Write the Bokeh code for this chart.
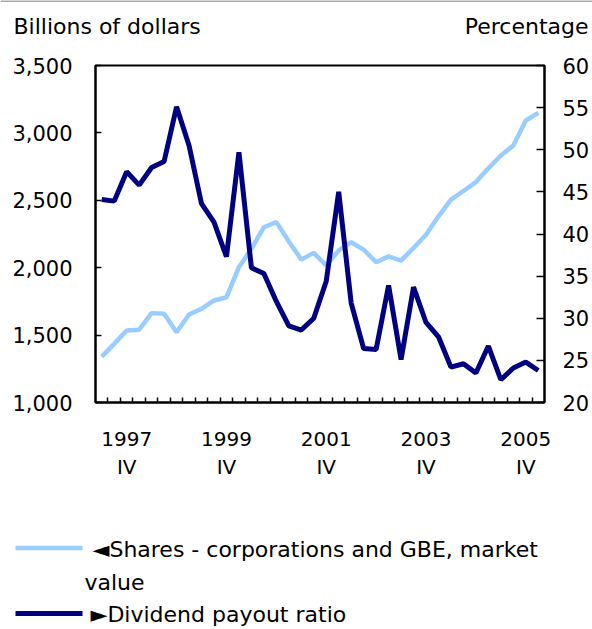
from bokeh.plotting import figure
from bokeh.models import (Range1d, LinearAxis, FixedTicker, NumeralTickFormatter,
                          ColumnDataSource)
from bokeh.layouts import column
from bokeh.embed import file_html
from bokeh.resources import INLINE
from bokeh.core.properties import value

# ---------------- data ----------------
quarters = ["1997 Q2", "1997 Q3", "1997 Q4", "1998 Q1", "1998 Q2", "1998 Q3", "1998 Q4",
            "1999 Q1", "1999 Q2", "1999 Q3", "1999 Q4", "2000 Q1", "2000 Q2", "2000 Q3",
            "2000 Q4", "2001 Q1", "2001 Q2", "2001 Q3", "2001 Q4", "2002 Q1", "2002 Q2",
            "2002 Q3", "2002 Q4", "2003 Q1", "2003 Q2", "2003 Q3", "2003 Q4", "2004 Q1",
            "2004 Q2", "2004 Q3", "2004 Q4", "2005 Q1", "2005 Q2", "2005 Q3", "2005 Q4",
            "2006 Q1"]
# Shares - corporations and GBE, market value (billions of dollars, left axis)
shares_market_value = [1340, 1435, 1534, 1540, 1663, 1658, 1522, 1653, 1695, 1757,
                       1781, 2004, 2140, 2300, 2338, 2195, 2060, 2110, 2016, 2128,
                       2189, 2134, 2041, 2084, 2053, 2146, 2245, 2381, 2505, 2569,
                       2635, 2738, 2832, 2907, 3092, 3149]
# Dividend payout ratio (percentage, right axis)
dividend_payout_ratio = [44.1, 43.9, 47.4, 45.8, 47.9, 48.6, 55.1, 50.5, 43.6, 41.4,
                         37.3, 49.7, 36.0, 35.3, 32.0, 29.1, 28.6, 30.0, 34.4, 45.0,
                         31.8, 26.4, 26.3, 33.9, 25.1, 33.7, 29.5, 27.8, 24.2, 24.6,
                         23.5, 26.7, 22.7, 24.1, 24.8, 23.8]
tick_quarters = ["1997 Q4", "1999 Q4", "2001 Q4", "2003 Q4", "2005 Q4"]
tick_labels = ["1997\nIV", "1999\nIV", "2001\nIV", "2003\nIV", "2005\nIV"]
left_ticks = [1000, 1500, 2000, 2500, 3000, 3500]
right_ticks = [20, 25, 30, 35, 40, 45, 50, 55, 60]
left_title = "Billions of dollars"
right_title = "Percentage"
legend_texts = ["\u25c4Shares - corporations and GBE, market", "value",
                "\u25baDividend payout ratio"]

# ---------------- style ----------------
FONT = "DejaVu Sans"
NAVY = "#000080"
LIGHT = "#99CCFF"
TXT = "#000000"
W = 592

x = list(range(len(quarters)))
tick_pos = [quarters.index(q) for q in tick_quarters]
boundaries = [i + 0.5 for i in x[:-1]]

# ---------------- header (axis titles) ----------------
hd = figure(width=W, height=50, output_backend="svg", toolbar_location=None,
            x_range=Range1d(0, W), y_range=Range1d(0, 50),
            x_axis_type=None, y_axis_type=None, min_border=0)
hd.frame_align = False
hd.grid.visible = False
hd.outline_line_color = None
hd.line([0, W], [49.5, 49.5], line_color="#8c8c8c", line_width=1.5)
hd.text(x=[13], y=[24], text=[left_title], text_font=value(FONT), text_font_size="22px",
        text_color=TXT, text_baseline="alphabetic", text_align="left")
hd.text(x=[588], y=[24], text=[right_title], text_font=value(FONT), text_font_size="22px",
        text_color=TXT, text_baseline="alphabetic", text_align="right")

# ---------------- main chart ----------------
p = figure(width=W, height=438, output_backend="svg", toolbar_location=None,
           x_range=Range1d(-0.5, len(quarters) - 0.5),
           y_range=Range1d(left_ticks[0], left_ticks[-1]),
           min_border_left=95, min_border_right=46, min_border_top=15,
           min_border_bottom=86)
p.frame_align = False
p.extra_y_ranges = {"pct": Range1d(right_ticks[0], right_ticks[-1])}
p.grid.visible = False
p.outline_line_color = "black"
p.outline_line_width = 2
p.background_fill_color = "white"
p.border_fill_color = "white"

src = ColumnDataSource(dict(x=x, shares=shares_market_value, payout=dividend_payout_ratio))
p.line("x", "shares", source=src, line_color=LIGHT, line_width=4.5)
p.line("x", "payout", source=src, y_range_name="pct", line_color=NAVY, line_width=5)

ya = p.yaxis[0]
ya.ticker = FixedTicker(ticks=left_ticks)
ya.formatter = NumeralTickFormatter(format="0,0")
ya.major_tick_in = 6
ya.major_tick_out = 0
ya.minor_tick_in = 0
ya.minor_tick_out = 0
ya.major_label_standoff = 23

ra = LinearAxis(y_range_name="pct", ticker=FixedTicker(ticks=right_ticks))
ra.major_tick_in = 8
ra.major_tick_out = 0
ra.minor_tick_in = 0
ra.minor_tick_out = 0
ra.major_label_standoff = 18
p.add_layout(ra, "right")

xa = p.xaxis[0]
xa.ticker = FixedTicker(ticks=tick_pos, minor_ticks=boundaries)
xa.major_label_overrides = {t: l for t, l in zip(tick_pos, tick_labels)}
xa.major_tick_in = 0
xa.major_tick_out = 0
xa.minor_tick_in = 5
xa.minor_tick_out = 0
xa.minor_tick_line_width = 1.5
xa.minor_tick_line_color = "black"
xa.major_label_standoff = 24

for ax, fs in ((xa, "20px"), (ya, "21px"), (ra, "21px")):
    ax.major_label_text_font = FONT
    ax.major_label_text_font_size = fs
    ax.major_label_text_color = TXT
    ax.axis_line_color = "black"
    ax.axis_line_width = 2
    ax.major_tick_line_color = "black"
    ax.major_tick_line_width = 1.5

# ---------------- legend ----------------
LH = 140
lg = figure(width=W, height=LH, output_backend="svg", toolbar_location=None,
            x_range=Range1d(0, W), y_range=Range1d(0, LH),
            x_axis_type=None, y_axis_type=None, min_border=0)
lg.frame_align = False
lg.grid.visible = False
lg.outline_line_color = None
lg.line([15, 82], [80.5, 80.5], line_color=LIGHT, line_width=4.5)
lg.line([15, 82], [15, 15], line_color=NAVY, line_width=5)
lg.text(x=[92, 84, 90], y=[79.5, 46, 14], text=legend_texts,
        text_font=value(FONT), text_font_size="22px", text_color=TXT,
        text_baseline="alphabetic", text_align="left")

layout = column(hd, p, lg, spacing=0)
open("out.html", "w").write(file_html(layout, INLINE))
